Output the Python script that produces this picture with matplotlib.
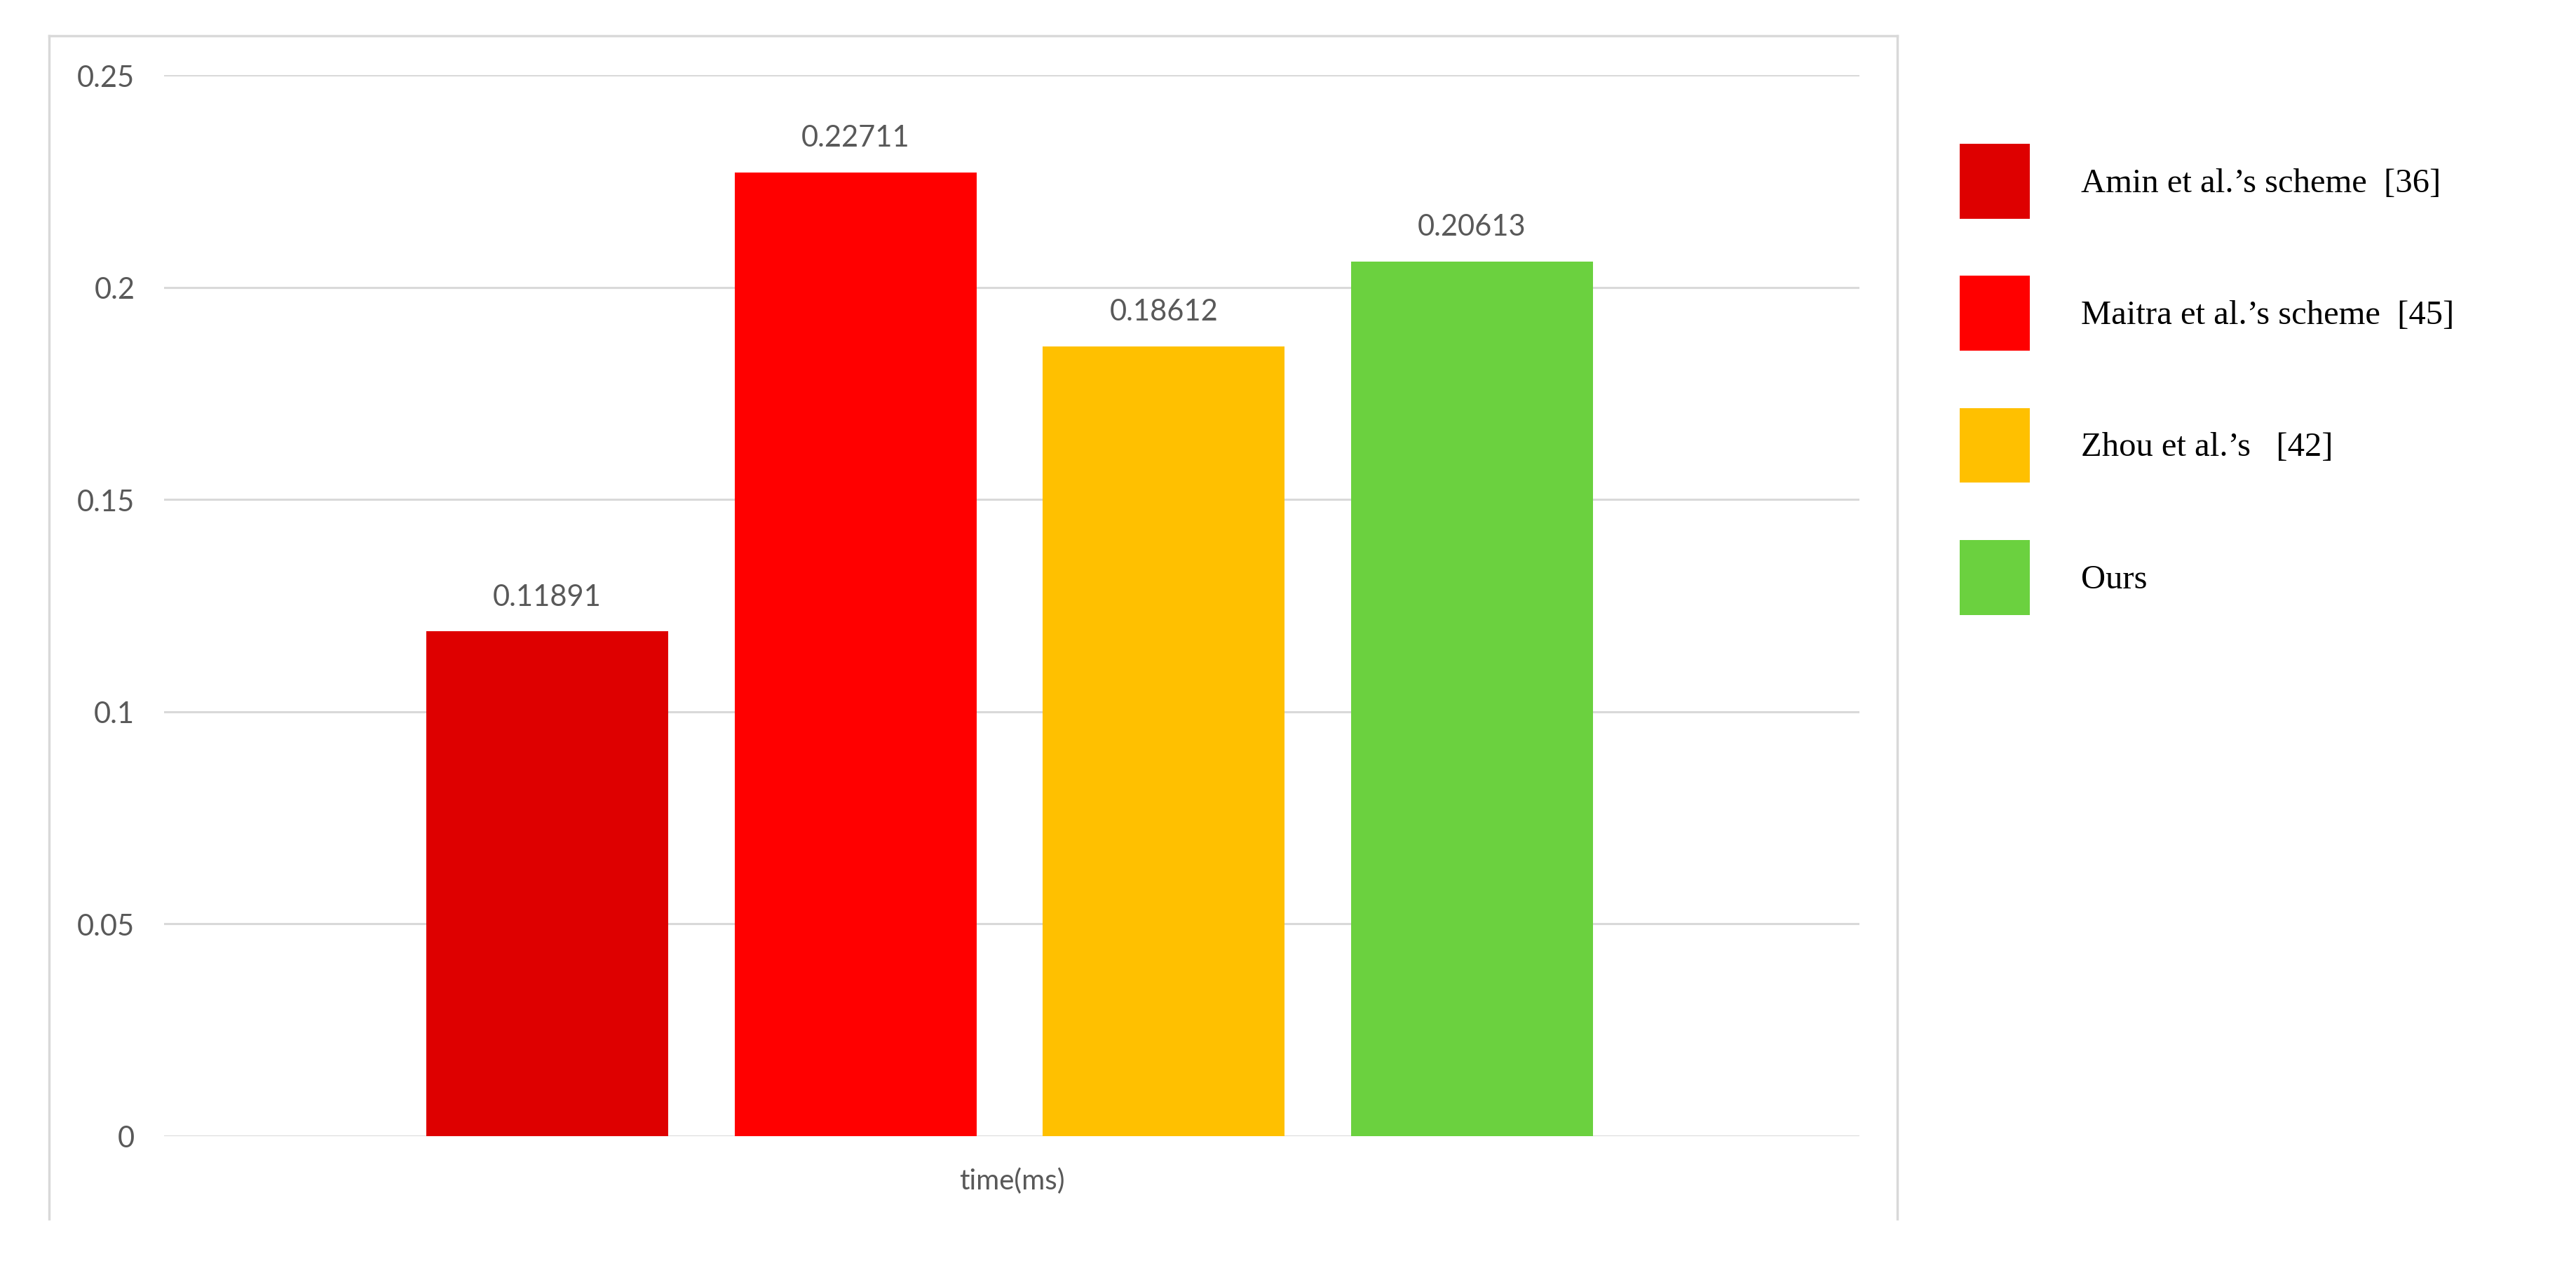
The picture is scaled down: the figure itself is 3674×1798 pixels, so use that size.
import matplotlib
matplotlib.use("Agg")
import matplotlib.pyplot as plt
from matplotlib.lines import Line2D

# data
schemes = ["Amin et al.’s scheme  [36]", "Maitra et al.’s scheme  [45]",
           "Zhou et al.’s   [42]", "Ours"]
times = [0.11891, 0.22711, 0.18612, 0.20613]
value_labels = ["0.11891", "0.22711", "0.18612", "0.20613"]
colors = ["#DE0000", "#FF0000", "#FFC000", "#6BD13F"]
y_ticks = [0, 0.05, 0.1, 0.15, 0.2, 0.25]
y_tick_labels = ["0", "0.05", "0.1", "0.15", "0.2", "0.25"]

W, H = 3674, 1799
fig = plt.figure(figsize=(W / 100, H / 100), dpi=100)
fig.patch.set_facecolor("white")

# axes placed in pixel terms of the reference
ax = fig.add_axes([234 / W, 1 - 1621 / H, (2652 - 234) / W, (1621 - 108) / H])

x = list(range(len(times)))
bars = []
for i in x:
    b = ax.bar(i, times[i], width=0.785, color=colors[i], label=schemes[i], zorder=3)
    bars.append(b)
    ax.annotate(value_labels[i], (i, times[i]), xytext=(0, 22), textcoords="offset points",
                ha="center", va="bottom", fontsize=30, color="#595959", family="Lato")

ax.set_xlim(-1.243, 4.257)
ax.set_ylim(0, 0.25)
ax.set_yticks(y_ticks)
ax.set_yticklabels(y_tick_labels, family="Lato", fontsize=30, color="#595959")
ax.tick_params(axis="y", length=0, pad=30)
ax.set_xticks([])
ax.grid(axis="y", color="#D9D9D9", linewidth=2.2, zorder=0)
for s in ax.spines.values():
    s.set_visible(False)
ax.set_xlabel("time(ms)", family="Lato", fontsize=29, color="#595959", labelpad=32)

# outer chart frame (open at the bottom)
fx0, fx1 = 70 / W, 2706 / W
fy0, fy1 = 1 - 1739 / H, 1 - 52 / H
for xs, ys in [([fx0, fx0], [fy0, fy1]), ([fx0, fx1], [fy1, fy1]), ([fx1, fx1], [fy1, fy0])]:
    fig.add_artist(Line2D(xs, ys, transform=fig.transFigure, color="#D9D9D9", linewidth=2.5))

fig.legend(handles=[b[0] for b in bars], labels=schemes, loc="upper left",
           bbox_to_anchor=(2795 / W, 1 - 206 / H), frameon=False, borderaxespad=0,
           borderpad=0, prop={"family": "Liberation Serif", "size": 35},
           handlelength=2.05, handleheight=3.0, handletextpad=1.5, labelspacing=1.68)

fig.savefig("out.png", dpi=100, facecolor="white")
